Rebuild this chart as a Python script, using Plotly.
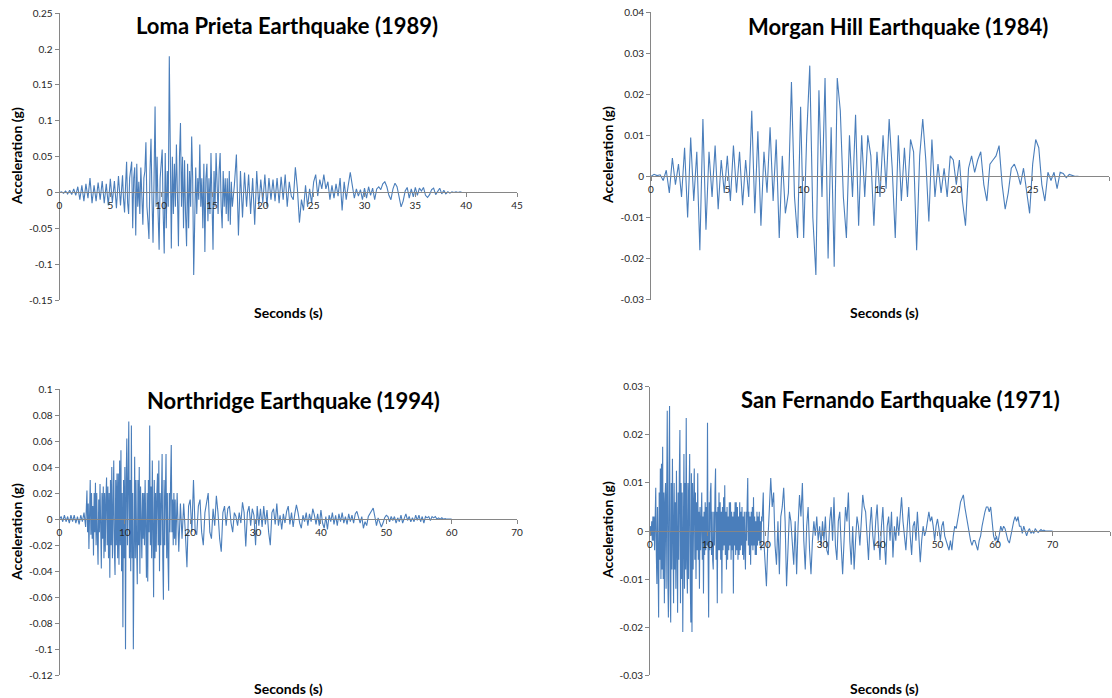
import numpy as np
import plotly.graph_objects as go

# ---------------- data ----------------
titles = ["Loma Prieta Earthquake (1989)", "Morgan Hill Earthquake (1984)",
          "Northridge Earthquake (1994)", "San Fernando Earthquake (1971)"]
x_label = "Seconds (s)"
y_label = "Acceleration (g)"

loma_head_acc = [
    0, 0.001, -0.001, 0.002, -0.002, 0.003, -0.003, 0.005, -0.004, 0.008,
    -0.01, 0.01, -0.012, 0.012, -0.008, 0.02, -0.015, 0.01, -0.012, 0.014,
    -0.01, 0.016, -0.015, 0.012, -0.018, 0.019, -0.014, 0.016, -0.022, 0.023,
]
loma_dense_acc = [
    -0.018, 0.015, 0.024, -0.01, -0.028, 0.01, 0.043, -0.015, -0.03, 0.02,
    0.03, 0.043, -0.05, 0.02, 0.035, -0.06, 0.04, -0.02, 0.015, -0.03,
    0.035, -0.01, -0.045, 0.02, 0.03, 0.07, -0.02, -0.04, -0.065, 0.03,
    0.075, -0.01, -0.07, 0.02, 0.12, -0.02, 0.05, -0.03, -0.08, 0.02,
    0.04, 0.06, -0.03, -0.085, 0.055, -0.05, 0.03, -0.02, 0.19, 0.02,
    -0.078, 0.05, -0.03, 0.04, -0.02, 0.067, -0.04, -0.075, 0.05, 0.097,
    -0.02, 0.05, -0.05, 0.045, -0.03, -0.075, 0.04, -0.05, 0.03, -0.02,
    0.078, 0.02, -0.115, -0.01, 0.035, -0.03, 0.02, -0.01, 0.067, -0.02,
    0.02, -0.05, 0.04, -0.083, 0.02, 0.04, -0.04, 0.02, -0.03, 0.055,
    -0.02, -0.08, 0.03, -0.02, 0.055, -0.01, -0.03, 0.03, 0.055, -0.02,
    -0.05, 0.03, -0.02, 0.02, -0.03, 0.02, -0.04, 0.03, -0.045, 0.015,
    -0.02,
]
loma_tail_acc = [
    0.01, 0.053, -0.06, 0.03,
    -0.035, 0.028, -0.02, 0.025, -0.03, 0.02, -0.045, 0.03, -0.02, 0.018,
    -0.015, 0.025, -0.02, 0.02, -0.01, 0.018, -0.012, 0.02, -0.015, 0.022,
    -0.01, 0.025, -0.02, 0.015, -0.005, -0.01, 0.035, 0.005, -0.042, -0.01,
    -0.025, 0.01, -0.02, 0.005, -0.015, 0.015, 0.025, -0.005, 0.018, 0.005,
    0.025, 0.005, 0.015, -0.01, 0.01, -0.008, 0.012, -0.005, 0.02, -0.025,
    0.015, -0.01, 0.01, 0.028, 0.01, -0.008, 0.005, -0.005, 0.004, -0.01,
    0.006, -0.008, 0.008, -0.004, 0.006, -0.01, 0.005, 0.008, 0.004, 0.012,
    0.015, 0.008, -0.004, -0.01, 0.005, 0.013, 0.008, -0.005, -0.02, -0.012,
    0.002, 0.007, -0.008, 0.005, -0.006, 0.007, -0.004, 0.006, 0.002, 0.007,
    -0.004, -0.007, -0.003, 0.004, 0.006, -0.003, 0.002, 0.006, -0.002, 0.003,
    -0.002, 0.001, -0.001, 0.001, 0, 0.001, 0, 0.001, 0, 0, 0,
]

morgan_acc = [
    0, 0.0005, 0.0002, 0.0004, -0.001, 0.0015, -0.004, 0.0045, -0.002, 0.003,
    -0.005, 0.007, -0.01, 0.0095, -0.006, 0.006, -0.018, 0.014, -0.013, 0.006,
    -0.005, 0.0075, -0.008, 0.004, -0.004, 0.005, -0.006, 0.0075, -0.004, 0.006,
    -0.007, 0.004, -0.005, 0.016, -0.009, 0.011, -0.012, 0.006, -0.004, 0.012,
    -0.006, 0.009, -0.015, 0.005, -0.009, -0.004, 0.023, -0.005, -0.015, 0.017,
    -0.015, 0.01, 0.027, -0.01, -0.024, 0.021, -0.005, 0.024, -0.02, 0.012,
    -0.022, 0.024, 0.016, -0.005, -0.015, 0.01, -0.005, 0.015, -0.012, 0.01,
    -0.005, 0.01, 0.005, -0.012, 0.006, -0.005, 0.01, -0.003, 0.014, 0.002,
    -0.015, 0.01, -0.006, 0.007, -0.005, 0.009, 0.006, -0.018, 0.005, 0.014,
    0.004, -0.011, 0.009, -0.005, 0.003, -0.004, 0.002, -0.005, 0.005, 0.004,
    -0.002, 0.004, -0.006, -0.012, 0.002, 0.005, 0.001, 0.004, 0.006, -0.002,
    -0.006, 0.003, 0.004, 0.005, 0.0075, -0.002, -0.008, -0.004, 0.002, 0.003,
    0.001, -0.002, 0.002, -0.004, -0.009, 0.003, 0.009, 0.007, -0.002, -0.006,
    0.001, -0.001, 0.001, -0.003, 0.001, 0.0007, -0.0003, 0.0005, 0.0002, 0, 0,
]

north_head_acc = [
    0.0, 0.002, -0.002, 0.003, -0.002, 0.002, -0.003, 0.003, -0.002, 0.003,
    -0.003, 0.002, -0.004, 0.003, -0.002, 0.005,
]
north_dense_acc = [
    -0.006, 0.01, 0.022, -0.01, 0.012, -0.023, 0.015, 0.03, -0.012, 0.02,
    -0.015, 0.01, -0.028, 0.02, -0.01, 0.028, -0.02, 0.02, -0.015, -0.035,
    0.015, -0.01, 0.027, -0.02, -0.038, 0.02, -0.015, 0.025, -0.03, 0.02,
    -0.025, 0.015, 0.032, -0.02, 0.025, -0.03, 0.02, -0.045, 0.03, -0.02,
    0.04, -0.03, 0.02, 0.045, -0.025, -0.043, 0.03, -0.02, 0.035, -0.03,
    0.035, -0.035, 0.045, -0.02, 0.053, -0.04, 0.02, -0.083, 0.03, -0.03,
    0.04, -0.1, 0.03, 0.062, -0.02, 0.04, 0.075, -0.03, 0.03, -0.04,
    0.072, -0.03, 0.02, -0.1, 0.03, 0.048, -0.03, 0.03, -0.02, -0.05,
    0.03, -0.02, 0.04, -0.042, 0.025, -0.02, -0.03, 0.02, -0.015, 0.02,
    -0.02, 0.03, -0.02, -0.045, 0.02, -0.048, 0.03, -0.01, 0.072, -0.02,
    0.025, -0.03, 0.045, -0.02, -0.06, 0.03, -0.03, 0.02, -0.025, 0.02,
    0.035, -0.02, 0.045, -0.04, 0.02, -0.02, 0.02, 0.05, -0.03, -0.062,
    0.03, -0.02, 0.02, 0.05, -0.03, 0.02, -0.03, -0.055, 0.02, -0.01,
    0.03, 0.057, -0.01, 0.015, -0.02, 0.02, -0.015, 0.015, -0.02, 0.01,
    0.02,
]
north_tail_acc = [
    -0.025, 0.012, -0.015, 0.012, -0.01, -0.037, 0.01,
    0.015, -0.01, 0.03, -0.008, -0.012, 0.01, 0.015, -0.01, -0.02, 0.005,
    0.012, 0.02, -0.01, -0.015, 0.008, -0.005, 0.018, 0.005, -0.015, -0.025,
    0.005, 0.01, -0.005, 0.008, 0.01, -0.003, -0.01, 0.005, 0.002, -0.005,
    0.005, -0.003, 0.013, 0.005, -0.021, 0.005, 0.01, -0.005, 0.008, 0.003,
    -0.02, 0.01, -0.005, 0.008, -0.006, 0.01, -0.004, 0.007, -0.01, -0.02,
    0.005, 0.008, -0.004, 0.012, -0.005, 0.003, -0.008, 0.004, -0.003, 0.006,
    0.01, -0.004, 0.005, -0.006, 0.004, 0.011, 0.005, -0.003, -0.007, 0.003,
    -0.002, 0.005, -0.005, 0.004, -0.002, 0.008, 0.003, -0.004, 0.004, -0.005,
    0.007, -0.003, -0.007, 0.002, -0.008, 0.003, -0.002, 0.005, -0.004, 0.003,
    -0.005, 0.004, -0.002, 0.005, -0.003, 0.002, -0.004, 0.004, -0.002, 0.003,
    -0.003, 0.004, 0.006, 0.001, -0.003, 0.002, -0.007, -0.002, -0.005, 0.002,
    0.004, 0.006, 0.0085, 0.002, -0.005, 0.001, -0.002, -0.006, -0.003, 0.001,
    0.003, 0.002, -0.002, 0.002, -0.001, 0.002, -0.003, 0.001, -0.002, 0.003,
    -0.003, 0.001, 0.004, -0.001, 0.002, -0.002, 0.001, -0.002, 0.003, -0.001,
    0.003, -0.002, 0.002, -0.003, 0.002, 0.001, 0.002, -0.001, 0.002, 0.001,
    0.002, 0.0, 0.001, 0.0, 0.001, 0.0, 0.0005, 0, 0, 0, 0,
]

sanfer_dense_acc = [
    0, 0.001, -0.001, 0.002, -0.002, 0.003, -0.002, 0.003, -0.004, 0.004,
    0.009, -0.005, -0.011, 0.005, -0.008, -0.018, 0.008, -0.006, 0.013, -0.01,
    0.014, -0.008, 0.0175, -0.01, 0.008, -0.015, 0.006, 0.01, -0.012, 0.008,
    0.025, -0.01, -0.018, 0.012, 0.026, -0.012, -0.019, 0.01, -0.008, 0.015,
    -0.01, -0.015, 0.01, -0.008, 0.006, -0.012, 0.0125, -0.01, -0.017, 0.008,
    -0.006, 0.012, 0.021, -0.015, 0.01, -0.01, 0.008, -0.021, 0.01, 0.016,
    -0.012, 0.01, -0.008, 0.0235, -0.006, -0.013, 0.01, -0.01, 0.008, 0.016,
    -0.01, -0.019, 0.012, -0.021, 0.01, -0.008, 0.006, 0.013, -0.006, 0.008,
    -0.01, 0.006, -0.004, 0.012, -0.006, 0.004, -0.012, 0.005, -0.004, 0.006,
    0.008, -0.006, 0.003, -0.013, 0.004, -0.005, 0.006, -0.004, 0.005, -0.003,
    0.0225, -0.005, -0.018, 0.006, -0.004, 0.008, 0.01, -0.005, 0.004, -0.006,
    -0.008, 0.004, -0.003, 0.008, 0.013, -0.006, 0.004, -0.015, 0.005, -0.004,
    0.008,
]
sanfer_mid_acc = [
    -0.004, 0.006, -0.006, 0.004, -0.013, 0.005, -0.004, 0.007, -0.003, 0.0095,
    -0.005, 0.004, -0.008, 0.005, -0.006, 0.003, -0.004, 0.006, -0.003, 0.006,
    -0.006, 0.004, -0.004, 0.003, -0.013, 0.004, -0.003, 0.006, -0.005, 0.006,
    -0.004, 0.005, -0.006, 0.003, -0.005, 0.006, -0.004, 0.004, -0.003, 0.005,
    -0.005, 0.003, -0.006, 0.004, -0.003, -0.008, 0.004, -0.002, 0.006, 0.011,
    -0.003, 0.004, -0.005, 0.003, -0.007, 0.004, -0.003, 0.005, -0.004, 0.007,
    -0.003, 0.003, -0.005, 0.002, -0.005, 0.004, -0.003, 0.003, -0.002, 0.004,
    -0.003, 0.002, -0.004, 0.003, 0.002, 0.005, 0.008, -0.002, -0.004, -0.004,
]
sanfer_tail_acc = [
    -0.0115, -0.002, 0.006, 0.011, 0.005, 0.008, -0.003, -0.007, 0.002,
    -0.009, 0.003, 0.005, 0.009, 0.002, -0.0115, -0.003, 0.004, 0.002, -0.003,
    -0.007, 0.002, -0.009, 0.001, 0.0075, 0.003, 0.01, -0.002, -0.008, 0.001,
    0.005, -0.004, -0.009, -0.002, 0.002, -0.001, 0.003, -0.002, 0.001, -0.003,
    0.002, -0.002, 0.003, -0.004, -0.005, 0.002, 0.005, -0.002, 0.007, -0.003,
    -0.006, 0.002, 0.004, -0.003, -0.009, -0.002, 0.005, 0.002, 0.008, -0.002,
    -0.007, 0.001, -0.008, -0.002, 0.003, 0.001, -0.003, 0.002, 0.0075, 0.005,
    0.004, -0.001, -0.006, 0.001, 0.005, -0.001, -0.004, 0.002, 0.0055, -0.001,
    -0.006, 0.001, 0.005, -0.002, -0.007, 0.001, 0.003, -0.002, 0.004, -0.0055,
    0.001, -0.002, 0.003, -0.001, 0.004, 0.007, 0.002, -0.002, -0.004, 0.001,
    0.005, -0.001, -0.005, 0.001, 0.002, -0.002, 0.004, -0.001, -0.0065, -0.002,
    0.001, -0.001, 0.0, 0.002, 0.004, 0.002, 0.003, 0.001, -0.002, 0.001,
    0.0025, 0.0005, -0.002, 0.001, 0.002, -0.001, -0.002, -0.003, -0.004, -0.002,
    -0.004, -0.001, 0.001, 0.0005, 0.002, 0.004, 0.006, 0.007, 0.0075, 0.005,
    0.003, 0.002, 0.0, -0.002, -0.003, -0.002, -0.002, -0.003, -0.004, -0.002,
    -0.001, 0.001, 0.003, 0.004, 0.005, 0.005, 0.004, 0.005, 0.002, -0.001,
    -0.002, -0.001, -0.0025, -0.001, 0.001, 0.0, 0.001, 0.0005, -0.001, -0.002,
    -0.0025, -0.001, 0.001, 0.002, 0.003, 0.002, 0.003, 0.001, 0.001, -0.0005,
    0.001, 0.0, -0.001, 0.0, 0.0005, -0.0005, 0.0, -0.0005, 0.0005, 0,
    -0.0003, 0, 0.0003, 0, 0.0002, 0, 0, 0, 0, 0, 0,
]

loma_segments = [(0.0, 0.2, loma_head_acc), (6.0, 0.1, loma_dense_acc),
                 (17.2, 0.2, loma_tail_acc)]
morgan_segments = [(0.0, 0.2, morgan_acc)]
north_segments = [(0.0, 0.25, north_head_acc), (4.0, 0.1, north_dense_acc),
                  (18.25, 0.25, north_tail_acc)]
sanfer_segments = [(0.0, 0.1, sanfer_dense_acc), (12.1, 0.1, sanfer_mid_acc),
                   (20.25, 0.25, sanfer_tail_acc)]

# axis ticks
loma_xticks = [0, 5, 10, 15, 20, 25, 30, 35, 40, 45]
loma_yticks = [0.25, 0.2, 0.15, 0.1, 0.05, 0, -0.05, -0.1, -0.15]
loma_ytext = ["0.25", "0.2", "0.15", "0.1", "0.05", "0", "-0.05", "-0.1", "-0.15"]
morgan_xticks = [0, 5, 10, 15, 20, 25, 30]
morgan_yticks = [0.04, 0.03, 0.02, 0.01, 0, -0.01, -0.02, -0.03]
morgan_ytext = ["0.04", "0.03", "0.02", "0.01", "0", "-0.01", "-0.02", "-0.03"]
north_xticks = [0, 10, 20, 30, 40, 50, 60, 70]
north_yticks = [0.1, 0.08, 0.06, 0.04, 0.02, 0, -0.02, -0.04, -0.06, -0.08, -0.1, -0.12]
north_ytext = ["0.1", "0.08", "0.06", "0.04", "0.02", "0", "-0.02", "-0.04",
               "-0.06", "-0.08", "-0.1", "-0.12"]
sanfer_xticks = [0, 10, 20, 30, 40, 50, 60, 70, 80]
sanfer_yticks = [0.03, 0.02, 0.01, 0, -0.01, -0.02, -0.03]
sanfer_ytext = ["0.03", "0.02", "0.01", "0", "-0.01", "-0.02", "-0.03"]

# ---------------- layout helpers ----------------
W, H = 1112, 698
LINE = "#4A7EBB"
AXC = "#868686"
TXT = "#262626"
FONT = "Lato"


def px(x):
    return x / W


def py(y):
    return 1 - y / H


def build(segments):
    ts, vs = [], []
    for t0, dt, vals in segments:
        ts.append(t0 + np.arange(len(vals)) * dt)
        vs.extend(vals)
    return np.concatenate(ts), np.array(vs)


panels = [
    dict(seg=loma_segments, xr=[0, 45], yr=[-0.15, 0.25], xt=loma_xticks,
         yt=loma_yticks, ytt=loma_ytext, box=(59.5, 517, 13.3, 300),
         title_xy=(287, 25), ylab_xy=(16, 156), xlab_xy=(288, 312)),
    dict(seg=morgan_segments, xr=[0, 30], yr=[-0.03, 0.04], xt=morgan_xticks,
         yt=morgan_yticks, ytt=morgan_ytext, box=(651, 1109, 12.3, 299.5),
         title_xy=(898, 26), ylab_xy=(607, 155), xlab_xy=(884, 312)),
    dict(seg=north_segments, xr=[0, 70], yr=[-0.12, 0.1], xt=north_xticks,
         yt=north_yticks, ytt=north_ytext, box=(59.5, 517, 389, 675.3),
         title_xy=(293, 400), ylab_xy=(16, 532), xlab_xy=(288, 688)),
    dict(seg=sanfer_segments, xr=[0, 80], yr=[-0.03, 0.03], xt=sanfer_xticks,
         yt=sanfer_yticks, ytt=sanfer_ytext, box=(650, 1110, 386.7, 675.3),
         title_xy=(900, 399), ylab_xy=(607, 530), xlab_xy=(884, 688)),
]

fig = go.Figure()
annotations = []
layout_axes = {}

for i, p in enumerate(panels, start=1):
    xa = "x" if i == 1 else f"x{i}"
    ya = "y" if i == 1 else f"y{i}"
    t, acc = build(p["seg"])
    fig.add_trace(go.Scatter(x=t, y=acc, mode="lines",
                             line=dict(color=LINE, width=1.1),
                             xaxis=xa, yaxis=ya, showlegend=False,
                             hoverinfo="skip"))
    x0, x1, ytop, ybot = p["box"]
    ydom = [py(ybot), py(ytop)]
    r0, r1 = p["yr"]
    zero_pos = ydom[0] + (0 - r0) / (r1 - r0) * (ydom[1] - ydom[0])
    layout_axes["xaxis" if i == 1 else f"xaxis{i}"] = dict(
        domain=[px(x0), px(x1)], range=p["xr"], anchor="free", position=zero_pos,
        automargin=False, showgrid=False, zeroline=False, showline=True,
        linecolor=AXC, linewidth=1, ticks="outside", ticklen=4, tickcolor=AXC,
        tickvals=p["xt"], ticktext=[str(v) for v in p["xt"]],
        tickfont=dict(family=FONT, size=10, color=TXT), fixedrange=True)
    layout_axes["yaxis" if i == 1 else f"yaxis{i}"] = dict(
        domain=ydom, range=p["yr"], anchor=xa, automargin=False,
        showgrid=False, zeroline=False,
        showline=True, linecolor=AXC, linewidth=1, ticks="outside", ticklen=4,
        tickcolor=AXC, tickvals=p["yt"], ticktext=p["ytt"],
        tickfont=dict(family=FONT, size=10, color=TXT), fixedrange=True)
    tx, ty = p["title_xy"]
    annotations.append(dict(text=f"<b>{titles[i-1]}</b>", x=px(tx), y=py(ty),
                            xref="paper", yref="paper", showarrow=False,
                            xanchor="center", yanchor="middle",
                            font=dict(family=FONT, size=22, color="#000000")))
    lx, ly = p["ylab_xy"]
    annotations.append(dict(text=f"<b>{y_label}</b>", x=px(lx), y=py(ly),
                            xref="paper", yref="paper", showarrow=False,
                            textangle=-90, xanchor="center", yanchor="middle",
                            font=dict(family=FONT, size=14, color="#000000")))
    sx, sy = p["xlab_xy"]
    annotations.append(dict(text=f"<b>{x_label}</b>", x=px(sx), y=py(sy),
                            xref="paper", yref="paper", showarrow=False,
                            xanchor="center", yanchor="middle",
                            font=dict(family=FONT, size=14, color="#000000")))

fig.update_layout(width=W, height=H, autosize=False,
                  margin=dict(l=0, r=0, t=0, b=0, pad=0),
                  paper_bgcolor="white", plot_bgcolor="white",
                  annotations=annotations, **layout_axes)

page_fix = (
    "document.documentElement.style.margin='0';"
    "document.documentElement.style.overflow='hidden';"
    "document.body.style.margin='0';"
    "document.body.style.overflow='hidden';"
    "var gd=document.getElementById('{plot_id}');"
    "gd.style.position='fixed';gd.style.top='0px';gd.style.left='0px';"
)

fig.write_html("out.html", config={"displayModeBar": False}, post_script=page_fix)
